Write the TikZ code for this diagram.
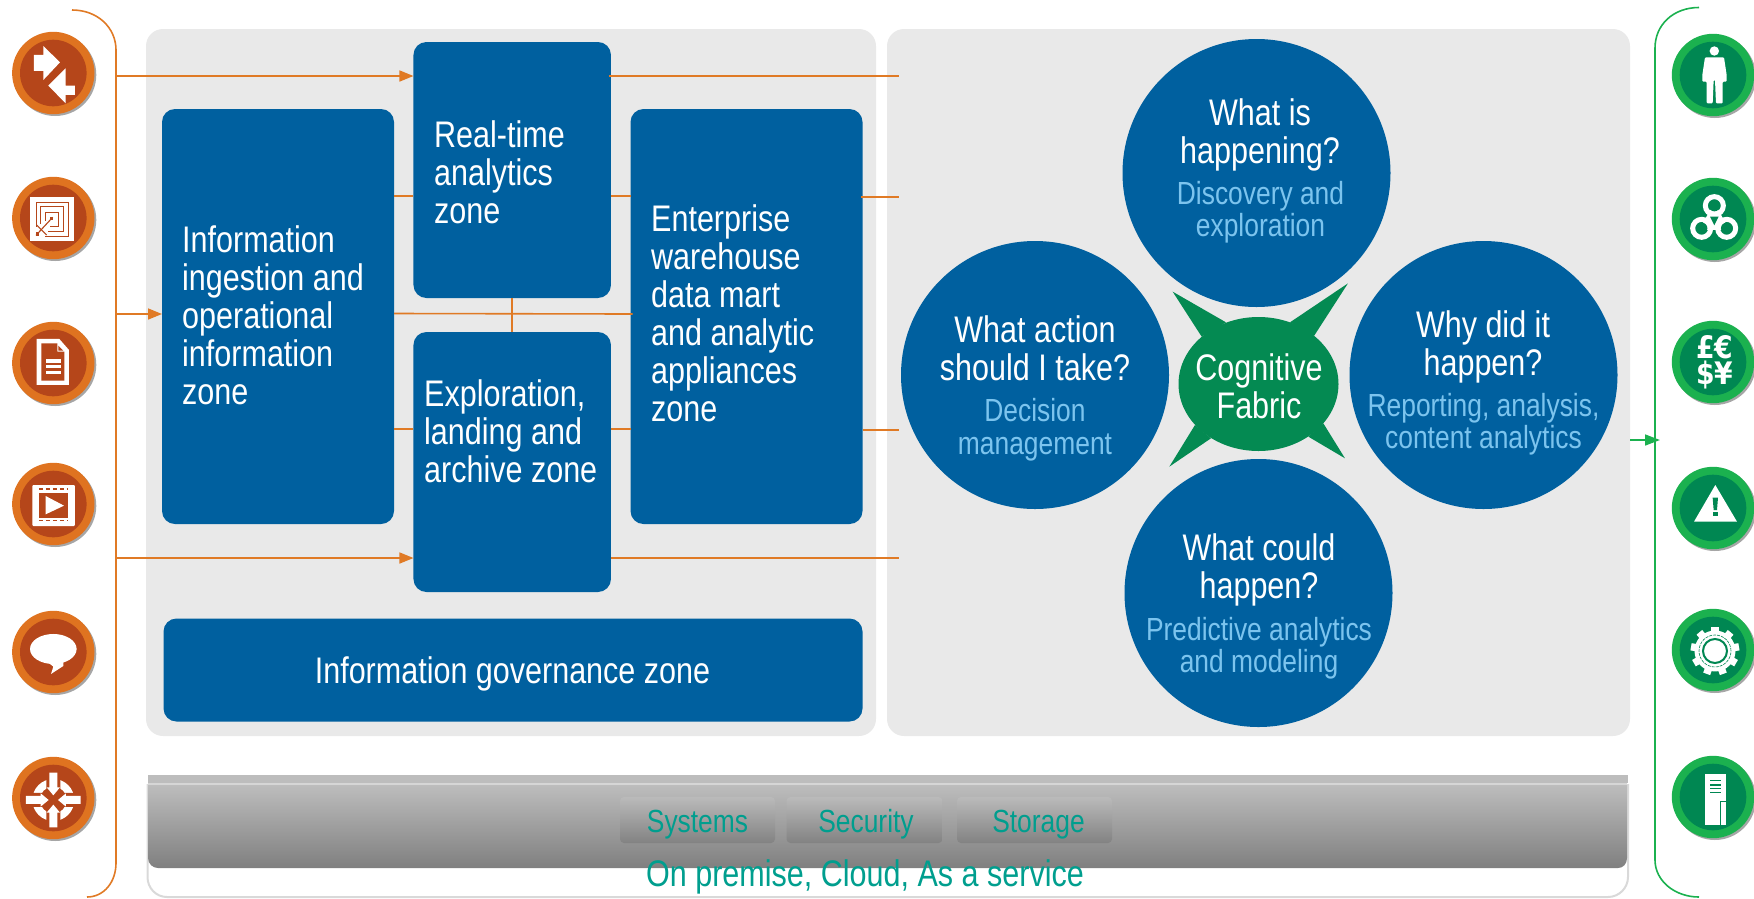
\documentclass[tikz,border=0pt]{standalone}
\usepackage{fontspec}
\setmainfont[FakeStretch=0.825]{Liberation Sans}
\newfontfamily\iconfont[FakeStretch=0.86]{DejaVu Sans Bold}
\usetikzlibrary{arrows.meta,shapes.geometric}
\definecolor{panelgray}{HTML}{E9E9E9}
\definecolor{ibmblue}{HTML}{00609F}
\definecolor{subblue}{HTML}{7CC4EE}
\definecolor{fabric}{HTML}{048A52}
\definecolor{orangeline}{HTML}{E07A25}
\definecolor{orout}{HTML}{DF7320}
\definecolor{orin}{HTML}{B5461A}
\definecolor{grout}{HTML}{1BB14F}
\definecolor{grin}{HTML}{008752}
\definecolor{teal}{HTML}{009E8E}
\tikzset{
  panel/.style={fill=panelgray,rounded corners=17pt},
  zone/.style={fill=ibmblue,rounded corners=13pt,inner sep=0pt,outer sep=0pt},
  qcircle/.style={circle,fill=ibmblue,minimum size=268pt,inner sep=0pt,outer sep=0pt},
  maintext/.style={text=white,inner sep=0pt,font=\fontsize{37}{38}\selectfont},
  subtext/.style={text=subblue,inner sep=0pt,align=center,font=\fontsize{32}{32.5}\selectfont},
  conn/.style={draw=orangeline,line width=1.6pt},
  connarrow/.style={conn,-{Triangle[length=14pt,width=11pt]}},
  greenline/.style={draw=grout,line width=1.6pt},
  infra/.style={rounded corners=4pt,top color=black!27,bottom color=black!49,draw=none,inner sep=0pt,minimum height=46pt,text height=31pt,text depth=7pt,text=teal,font=\fontsize{32}{32}\selectfont},
  iconwhite/.style={fill=white,draw=none},
  money/.style={text=white,inner sep=0pt,align=center,font=\iconfont\fontsize{31}{26.5}\selectfont},
}
\newcommand{\badge}[4]{%
  \fill[black!35] (#1+1.8,#2+1.8) circle (41.2pt);
  \fill[#3] (#1,#2) circle (41.2pt);
  \fill[#4] (#1,#2) circle (33.3pt);
}
\begin{document}
\begin{tikzpicture}[x=1pt,y=-1pt]
\useasboundingbox (0,0) rectangle (1754,898);
% panels
\fill[panel] (146,29) rectangle (876,736);
\fill[panel] (887,29) rectangle (1630,736);
% zones
\node[zone,minimum width=232pt,minimum height=415pt] (ing) at (278,316.5) {};
\node[zone,minimum width=197.5pt,minimum height=256pt] (rt) at (512.2,170) {};
\node[zone,minimum width=197.5pt,minimum height=260pt] (expl) at (512.2,462) {};
\node[zone,minimum width=232pt,minimum height=415pt] (ent) at (746.5,316.5) {};
\node[zone,minimum width=699pt,minimum height=103pt] (gov) at (513,670) {};
\node[maintext,anchor=west,align=left] (ingt) at (182,315) {Information\\ingestion and\\operational\\information\\zone};
\node[maintext,anchor=west,align=left] (rtt) at (434,172) {Real-time\\analytics\\zone};
\node[maintext,anchor=west,align=left] (explt) at (424,431) {Exploration,\\landing and\\archive zone};
\node[maintext,anchor=west,align=left] (entt) at (651,313) {Enterprise\\warehouse\\data mart\\and analytic\\appliances\\zone};
\node[maintext] (govt) at (512.5,674) {Information governance zone};
% circles
\node[qcircle] (c1) at (1256.5,173) {};
\node[qcircle] (c2) at (1035,375) {};
\node[qcircle] (c3) at (1483.5,375) {};
\node[qcircle] (c4) at (1258.5,593) {};
\node[maintext,align=center] (c1t) at (1260,134.5) {What is\\happening?};
\node[subtext] (c1s) at (1260.5,212) {Discovery and\\exploration};
\node[maintext,align=center] (c2t) at (1035,348) {What action\\should I take?};
\node[subtext] (c2s) at (1035,429.5) {Decision\\management};
\node[maintext,align=center] (c3t) at (1483,346.5) {Why did it\\happen?};
\node[subtext] (c3s) at (1483.5,424) {Reporting, analysis,\\content analytics};
\node[maintext,align=center] (c4t) at (1259,569.5) {What could\\happen?};
\node[subtext] (c4s) at (1259,648) {Predictive analytics\\and modeling};
% cognitive fabric
\fill[fabric] (1258.5,384) ellipse (80pt and 67pt);
\begin{scope}[shift={(1140,260)},x=.3333pt,y=-.3333pt]
\fill[fabric] (98,95)--(258,187)--(185,230)--cycle;
\fill[fabric] (624,70)--(522,228)--(450,187)--cycle;
\fill[fabric] (615,595)--(505,530)--(550,490)--cycle;
\fill[fabric] (88,620)--(165,495)--(213,535)--cycle;
\end{scope}
\node[maintext,align=center] (cf) at (1259,386) {Cognitive\\Fabric};
% infrastructure band
\draw[black!15,line width=2pt] (147.5,784) -- (147.5,877) .. controls (147.5,888) and (156,897) .. (167,897) -- (1608,897) .. controls (1619,897) and (1628,888) .. (1628,877) -- (1628,784);
\fill[black!26] (147.5,775) rectangle (1628,783);
\shade[top color=black!26,bottom color=black!50] (148,785) -- (148,858) .. controls (148,864) and (153,868) .. (158,868) -- (1618,868) .. controls (1623,868) and (1627,864) .. (1627,858) -- (1627,785) -- cycle;
\fill[black!16] (148,783) rectangle (1627,785);
\node[infra,minimum width=155pt] (sys) at (697.5,820) {Systems};
\node[infra,minimum width=156pt] (sec) at (864.5,820) {\hspace*{3pt}Security};
\node[infra,minimum width=155pt] (sto) at (1034.5,820) {\hspace*{8pt}Storage};
\node[text=teal,inner sep=0pt,font=\fontsize{37}{38}\selectfont] (onp) at (865,876.5) {On premise, Cloud, As a service};
% brackets
\draw[conn] (72,10) .. controls (98,10) and (116,28) .. (116,50) -- (116,863) .. controls (116,882) and (104,897) .. (87,897);
\draw[greenline] (1699,7.5) .. controls (1673,7.5) and (1655,25) .. (1655,48) -- (1655,860) .. controls (1655,881) and (1675,897) .. (1699,897);
% connectors
\coordinate (bl1) at (116,76);
\coordinate (bl2) at (116,314);
\coordinate (bl3) at (116,558);
\coordinate (pr1) at (899,76);
\coordinate (pr2) at (899,197);
\coordinate (pr3) at (899,430);
\coordinate (pr4) at (899,558);
\draw[connarrow] (bl1) -- (rt.west |- bl1);
\draw[connarrow] (bl2) -- (ing.west |- bl2);
\draw[connarrow] (bl3) -- (expl.west |- bl3);
\draw[conn] (ing.east |- 0,196) -- (rt.west |- 0,196);
\draw[conn] (rt.east |- 0,196) -- (ent.west |- 0,196);
\draw[conn] (ing.east |- 0,313.5) -- ([xshift=2pt]ent.west |- 0,314);
\draw[conn] (rt.south) -- (expl.north);
\draw[conn] (ing.east |- 0,429) -- (expl.west |- 0,429);
\draw[conn] (expl.east |- 0,429) -- (ent.west |- 0,429);
\draw[conn] ([xshift=-2pt]rt.east |- pr1) -- (pr1);
\draw[conn] ([xshift=-2pt]ent.east |- pr2) -- (pr2);
\draw[conn] (ent.east |- pr3) -- (pr3);
\draw[conn] (expl.east |- pr4) -- (pr4);
\coordinate (gout) at (1630,440);
\coordinate (gin) at (1660,440);
\draw[greenline,-{Triangle[length=15pt,width=11pt]}] (gout) -- (gin);
% left badges
\badge{53.3}{73}{orout}{orin}
\badge{53.3}{218}{orout}{orin}
\badge{53.3}{363}{orout}{orin}
\badge{53.3}{504}{orout}{orin}
\badge{53.3}{652}{orout}{orin}
\badge{53.3}{798}{orout}{orin}
% right badges
\badge{1713}{75}{grout}{grin}
\badge{1713}{219}{grout}{grin}
\badge{1713}{362}{grout}{grin}
\badge{1713}{508}{grout}{grin}
\badge{1713}{650}{grout}{grin}
\badge{1713}{797}{grout}{grin}
% left icons, upper three
\begin{scope}[x=.3333pt,y=-.3333pt]
\fill[iconwhite] (102,165)--(130,165)--(130,138)--(180,187)--(130,240)--(130,213)--(102,213)--cycle;
\fill[iconwhite] (225,257)--(197,257)--(197,205)--(145,257)--(197,310)--(197,285)--(225,285)--cycle;
\fill[iconwhite] (90,592) rectangle (222,722);
\draw[orin,line width=.9pt] (108,680)--(108,607)--(204,607)--(204,708)--(135,708);
\draw[orin,line width=.9pt] (122,672)--(122,620)--(190,620)--(190,695)--(145,695);
\draw[orin,line width=.9pt] (135,662)--(135,636)--(176,636)--(176,680)--(150,680);
\draw[orin,line width=1.1pt] (108,706)--(158,652);
\draw[orin,line width=1.1pt] (110,675)--(140,705);
\fill[orin] (150,650) rectangle (160,660);
\fill[orin] (108,695) rectangle (118,708);
\fill[iconwhite] (110,1017)--(178,1017)--(207,1050)--(207,1155)--(110,1155)--cycle;
\fill[orin] (124,1030)--(172,1030)--(172,1055)--(193,1055)--(193,1142)--(124,1142)--cycle;
\fill[orin] (175,1037)--(175,1052)--(190,1052)--cycle;
\fill[iconwhite] (137,1077) rectangle (183,1088);
\fill[iconwhite] (137,1095) rectangle (183,1105);
\fill[iconwhite] (137,1112) rectangle (183,1122);
\end{scope}
% left icons, lower three
\begin{scope}[shift={(0,450)},x=.3333pt,y=-.3333pt]
\fill[iconwhite,rounded corners=1pt] (97,105) rectangle (225,228);
\fill[orin] (117,130) rectangle (205,205);
\fill[iconwhite] (137,138)--(192,167)--(137,193)--cycle;
\draw[orin,line width=1.6pt,dash pattern=on 4pt off 3pt] (117,117)--(205,117);
\draw[orin,line width=1.6pt,dash pattern=on 4pt off 3pt] (117,212)--(205,212);
\fill[iconwhite] (160,597) ellipse (23.3pt and 15pt);
\fill[iconwhite] (138,632)--(160,650)--(153,672)--(190,648)--(190,625)--cycle;
\fill[iconwhite,even odd rule] (160,1050) circle (21pt) (160,1050) circle (13.5pt);
\foreach \a in {0,90,180,270}{
  \begin{scope}[shift={(160,1050)},rotate=\a]
    \fill[orin] (-21,-64)--(21,-64)--(21,-30)--(0,-4)--(-21,-30)--cycle;
    \fill[iconwhite] (-12,-82)--(12,-82)--(12,-38)--(20,-38)--(0,-14)--(-20,-38)--(-12,-38)--cycle;
  \end{scope}
}
\end{scope}
% right icons, upper three
\begin{scope}[shift={(1590,0)},x=.3333pt,y=-.3333pt]
\fill[iconwhite] (373,153) circle (4.7pt);
\fill[iconwhite,rounded corners=1pt] (345,172)--(402,172)--(410,225)--(410,245)--(398,245)--(398,310)--(378,310)--(375,240)--(371,240)--(368,310)--(350,310)--(350,245)--(337,245)--(337,225)--cycle;
\fill[iconwhite] (373,617)--(335,685)--(410,685)--cycle;
\draw[white,line width=3pt,line join=round] (373,617)--(335,685)--(410,685)--cycle;
\draw[white,line width=5pt] (373,617) circle (9pt);
\draw[white,line width=5pt] (335,685) circle (9pt);
\draw[white,line width=5pt] (410,685) circle (9pt);
\fill[grin] (373,617) circle (5.7pt);
\fill[grin] (335,685) circle (5.7pt);
\fill[grin] (410,685) circle (5.7pt);
\fill[grin] (360,650)--(386,650)--(373,676)--cycle;
\node[money] (cur) at (374,1087) {£€\\\$¥};
\end{scope}
% right icons, lower three
\begin{scope}[shift={(1590,450)},x=.3333pt,y=-.3333pt]
\fill[iconwhite] (376,105)--(441,215)--(312,215)--cycle;
\fill[grin] (368,143)--(384,143)--(381,180)--(371,180)--cycle;
\fill[grin] (368,186) rectangle (384,197);
% gear
\fill[iconwhite] (375,603) circle (20.5pt);
\foreach \a in {0,40,...,320}{
  \begin{scope}[shift={(375,603)},rotate=\a]
    \fill[iconwhite] (-11,-73) rectangle (11,-55);
  \end{scope}
}
\draw[grin,line width=.6pt,dash pattern=on 3pt off 1pt] (375,603) circle (16pt);
\draw[grin,line width=2pt] (375,603) circle (12pt);
\fill[iconwhite] (375,603) circle (7.5pt);
% server
\fill[iconwhite] (345,972) rectangle (408,1125);
\foreach \yy in {992,1005,1015,1027}{
  \draw[grin,line width=1.3pt] (360,\yy)--(394,\yy);
}
\draw[grin,line width=1.4pt] (408,1055)--(392,1055)--(392,1125);
\end{scope}
\end{tikzpicture}
\end{document}
